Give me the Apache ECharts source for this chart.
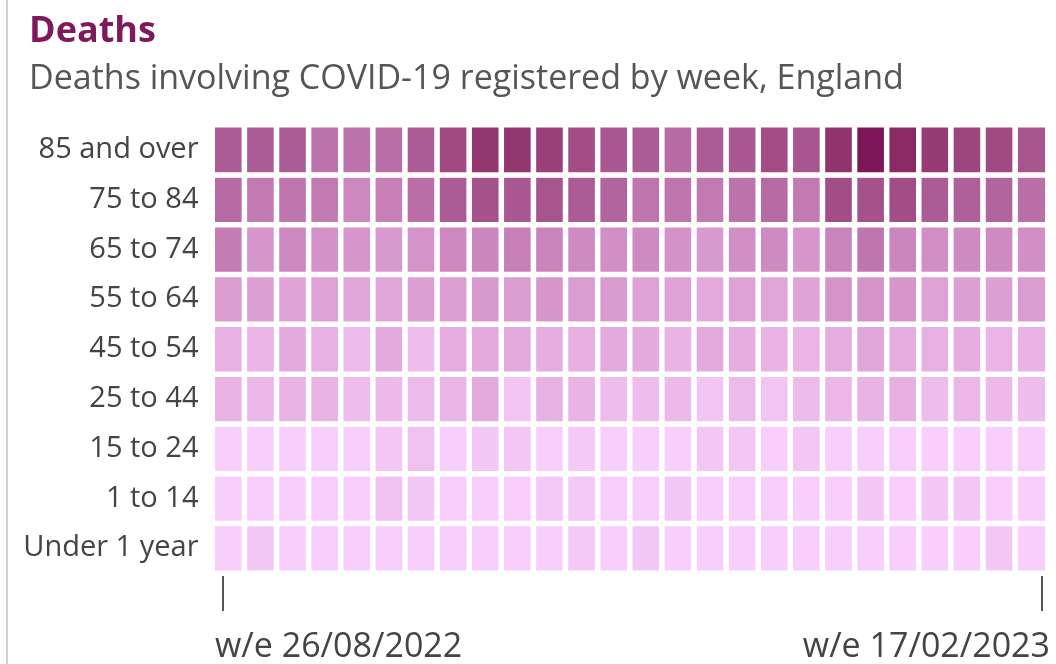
<!DOCTYPE html>
<html>
	<head>
		<meta charset="UTF-8" />
		<title>Deaths</title>
		<style>
			html, body { margin: 0; padding: 0; background: #fff; }
			#deathsChart { width: 1056px; height: 664px; }
		</style>
	</head>
	<body>
		<div id="deathsChart"></div>
		<script type="text/javascript" src="https://cdn.jsdelivr.net/npm/echarts@6/dist/echarts.min.js"></script>
		<script type="text/javascript">
			// week ending dates (x axis)
			const weeks = [
				"26/08/2022", "02/09/2022", "09/09/2022", "16/09/2022", "23/09/2022", "30/09/2022",
				"07/10/2022", "14/10/2022", "21/10/2022", "28/10/2022", "04/11/2022", "11/11/2022",
				"18/11/2022", "25/11/2022", "02/12/2022", "09/12/2022", "16/12/2022", "23/12/2022",
				"30/12/2022", "06/01/2023", "13/01/2023", "20/01/2023", "27/01/2023", "03/02/2023",
				"10/02/2023", "17/02/2023"
			];
			// age bands, bottom to top
			const ageGroups = ["Under 1 year", "1 to 14", "15 to 24", "25 to 44", "45 to 54", "55 to 64", "65 to 74", "75 to 84", "85 and over"];

			// shade level read from each cell (0 = lightest, 10 = darkest)
			const under1 = [0, 0.4, 0, 0, 0, 0, 0, 0, 0, 0, 0, 0.3, 0, 0.4, 0, 0, 0, 0, 0, 0, 0, 0, 0, 0, 0.4, 0];
			const age1to14 = [0, 0, 0, 0, 0, 0.7, 0.4, 0, 0, 0, 0.3, 0.3, 0, 0, 0.4, 0, 0, 0, 0, 0, 0.4, 0, 0.4, 0.4, 0, 0];
			const age15to24 = [0, 0, 0, 0, 0, 0.5, 0.8, 0, 0.4, 0.5, 0, 0.3, 0, 0, 0, 0.5, 0.5, 0, 0.5, 0, 0, 0, 0, 0, 0, 0];
			const age25to44 = [1.5, 1.3, 1.5, 1.5, 1.0, 1.2, 1.1, 1.4, 2.0, 0.6, 1.6, 1.5, 1.0, 1.0, 1.2, 0.6, 1.1, 0.6, 1.1, 1.3, 1.5, 1.7, 1.0, 1.3, 1.2, 1.0];
			const age45to54 = [1.6, 1.4, 2.0, 1.6, 1.1, 2.0, 1.0, 1.8, 2.0, 2.0, 1.8, 1.7, 2.0, 2.0, 1.5, 2.0, 1.8, 1.5, 1.4, 1.9, 2.3, 1.9, 1.6, 1.8, 1.4, 1.5];
			const age55to64 = [2.8, 2.6, 2.4, 2.5, 2.2, 2.2, 2.6, 2.7, 3.0, 2.8, 3.2, 2.8, 2.9, 2.5, 2.5, 2.0, 2.5, 2.3, 2.4, 3.3, 3.3, 3.2, 2.5, 2.6, 2.6, 2.8];
			const age65to74 = [4.5, 3.2, 4.0, 3.4, 3.2, 3.0, 3.3, 4.0, 4.1, 4.4, 4.2, 3.8, 3.6, 3.8, 3.4, 3.0, 3.6, 3.8, 3.2, 4.2, 4.8, 4.1, 3.6, 3.8, 3.8, 3.6];
			const age75to84 = [5.3, 4.6, 4.8, 4.6, 4.0, 4.4, 5.2, 6.0, 6.6, 6.2, 6.4, 6.0, 5.6, 4.8, 4.8, 4.6, 5.0, 5.3, 4.6, 6.8, 6.6, 6.8, 6.0, 5.8, 5.6, 5.2];
			const age85plus = [6.0, 6.0, 6.0, 5.0, 5.0, 5.2, 6.0, 7.0, 8.0, 8.0, 7.5, 6.8, 6.2, 6.0, 5.3, 6.0, 6.2, 6.8, 6.3, 8.2, 10.0, 8.8, 7.8, 7.2, 7.0, 6.4];

			const rows = [under1, age1to14, age15to24, age25to44, age45to54, age55to64, age65to74, age75to84, age85plus];

			const cells = [];
			rows.forEach(function(row, y) {
				row.forEach(function(v, x) {
					cells.push([x, y, v]);
				});
			});

			const lastWeek = weeks.length - 1;
			const showEnds = function(i) { return i === 0 || i === lastWeek; };
			// first label hangs left of its tick, last one right of it
			const weekLabels = weeks.map(function(w, i) {
				const item = { value: "w/e " + w };
				if (i === 0) item.textStyle = { align: "left", padding: [0, 0, 0, -8] };
				if (i === lastWeek) item.textStyle = { align: "right", padding: [0, -8, 0, 0] };
				return item;
			});

			const deathsChart = echarts.init(document.getElementById("deathsChart"));
			deathsChart.setOption({
				animation: false,
				textStyle: { fontFamily: "Open Sans" },
				title: [{
					text: "Deaths",
					left: 24,
					top: 9,
					textStyle: { color: "#7d1a5c", fontSize: 36, fontWeight: "bold", fontFamily: "Open Sans" }
				}, {
					text: "Deaths involving COVID-19 registered by week, England",
					left: 24,
					top: 57,
					textStyle: { color: "#555", fontSize: 34, fontWeight: "normal", fontFamily: "Open Sans" }
				}],
				graphic: [{
					type: "line",
					shape: { x1: 7, y1: 0, x2: 7, y2: 664 },
					style: { stroke: "#d0d0d0", lineWidth: 2 }
				}],
				grid: [
					{ left: 212.5, right: 8.5, top: 125, bottom: 91 },
					{ left: 223, right: 14, top: 125, bottom: 91 }
				],
				xAxis: [{
					type: "category",
					data: weeks,
					gridIndex: 0,
					show: false
				}, {
					type: "category",
					data: weekLabels,
					gridIndex: 1,
					boundaryGap: false,
					offset: 10,
					axisLine: { show: false },
					axisTick: {
						show: true,
						interval: showEnds,
						length: 39,
						lineStyle: { color: "#555", width: 2 }
					},
					axisLabel: {
						interval: showEnds,
						margin: 48,
						fontSize: 34,
						color: "#444"
					},
					splitLine: { show: false }
				}],
				yAxis: [{
					type: "category",
					data: ageGroups,
					gridIndex: 0,
					axisLine: { show: false },
					axisTick: { show: false },
					axisLabel: { fontSize: 29, color: "#444", margin: 14 },
					splitLine: { show: false }
				}, {
					type: "value",
					gridIndex: 1,
					show: false
				}],
				visualMap: {
					show: false,
					min: 0,
					max: 10,
					dimension: 2,
					seriesIndex: 0,
					inRange: { color: ["#f8cffa", "#e4aadd", "#cc88bf", "#ac5c95", "#93376f", "#7c1656"] }
				},
				series: [{
					type: "heatmap",
					data: cells,
					xAxisIndex: 0,
					yAxisIndex: 0,
					itemStyle: { borderColor: "#fff", borderWidth: 5.5 },
					emphasis: { disabled: true }
				}]
			});
		</script>
	</body>
</html>
